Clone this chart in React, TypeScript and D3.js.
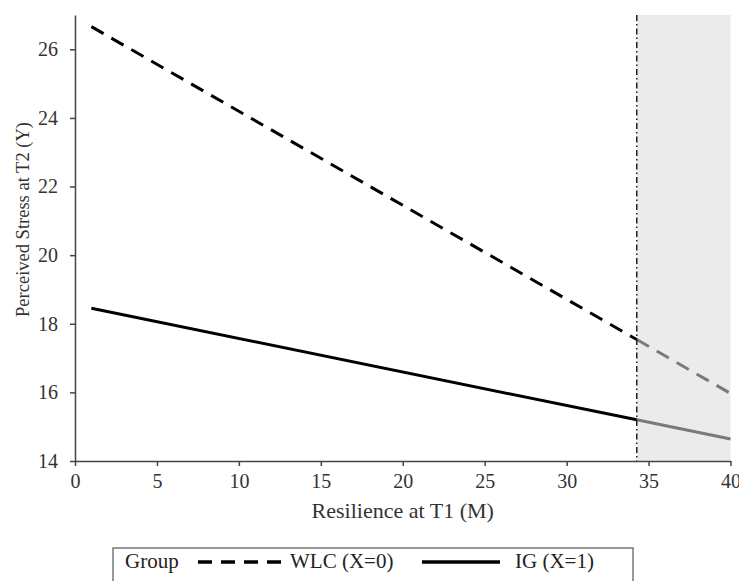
import React, { useEffect, useRef } from 'react';
import * as d3 from 'd3';

// values at the line start, the boundary and the end
const resilience = [1, 34.28, 40];
const wlcStress = [26.66, 17.54, 15.97];
const igStress = [18.45, 15.2, 14.64];
const boundary = 34.28;
const xTicks = [0, 5, 10, 15, 20, 25, 30, 35, 40];
const yTicks = [14, 16, 18, 20, 22, 24, 26];

const FONT = '"Liberation Serif", "Times New Roman", serif';

function App() {
  const ref = useRef<SVGSVGElement | null>(null);

  useEffect(() => {
    if (!ref.current) return;
    const svg = d3.select(ref.current);
    svg.selectAll('*').remove();

    const x = d3.scaleLinear().domain([0, 40]).range([75, 730.5]);
    const y = d3.scaleLinear().domain([14, 27]).range([461, 15]);

    // shaded region beyond the boundary
    svg.append('rect')
      .attr('x', x(boundary))
      .attr('y', y(27))
      .attr('width', x(40) - x(boundary))
      .attr('height', y(14) - y(27))
      .attr('fill', '#ebebeb');

    // black part up to the boundary, grey part after it
    const drawSeries = (vals: number[], dash: string | null) => {
      const seg = (from: number, to: number, color: string) => {
        const xs = resilience.slice(from, to);
        svg.append('path')
          .datum(vals.slice(from, to))
          .attr('fill', 'none')
          .attr('stroke', color)
          .attr('stroke-width', 3)
          .attr('stroke-dasharray', dash)
          .attr('d', d3.line<number>().x((_, i) => x(xs[i])).y((d) => y(d)));
      };
      seg(0, 2, '#000');
      seg(1, 3, '#7a7a7a');
    };
    drawSeries(wlcStress, '14,9');
    drawSeries(igStress, null);

    // boundary line
    svg.append('line')
      .attr('x1', x(boundary)).attr('x2', x(boundary))
      .attr('y1', y(27)).attr('y2', y(14))
      .attr('stroke', '#222')
      .attr('stroke-width', 1.5)
      .attr('stroke-dasharray', '6,3,1.5,3');

    const xAxis = svg.append('g')
      .attr('transform', `translate(0,${y(14)})`)
      .call(d3.axisBottom(x).tickValues(xTicks).tickSize(5).tickSizeOuter(0).tickPadding(8));
    const yAxis = svg.append('g')
      .attr('transform', `translate(${x(0)},0)`)
      .call(d3.axisLeft(y).tickValues(yTicks).tickSize(5).tickSizeOuter(0).tickPadding(12));

    [xAxis, yAxis].forEach((g) => {
      g.select('.domain').attr('stroke', '#444').attr('stroke-width', 1.5);
      g.selectAll('.tick line').attr('stroke', '#444').attr('stroke-width', 1.5);
      g.selectAll('.tick text')
        .attr('font-family', FONT)
        .attr('font-size', 20)
        .attr('fill', '#333');
    });

    svg.append('text')
      .attr('x', (x(0) + x(40)) / 2)
      .attr('y', 518)
      .attr('text-anchor', 'middle')
      .attr('font-family', FONT)
      .attr('font-size', 22)
      .attr('fill', '#333')
      .text('Resilience at T1 (M)');

    svg.append('text')
      .attr('transform', `translate(29,219.5) rotate(-90)`)
      .attr('text-anchor', 'middle')
      .attr('font-family', FONT)
      .attr('font-size', 18.5)
      .attr('fill', '#333')
      .text('Perceived Stress at T2 (Y)');

    // legend
    const lg = svg.append('g');
    lg.append('rect')
      .attr('x', 113).attr('y', 548)
      .attr('width', 520).attr('height', 50)
      .attr('fill', 'none')
      .attr('stroke', '#555')
      .attr('stroke-width', 1.2);
    const txt = (tx: number, s: string) => lg.append('text')
      .attr('x', tx).attr('y', 568)
      .attr('font-family', FONT)
      .attr('font-size', 21)
      .attr('fill', '#222')
      .text(s);
    txt(125, 'Group');
    lg.append('line')
      .attr('x1', 198).attr('x2', 281).attr('y1', 562).attr('y2', 562)
      .attr('stroke', '#000').attr('stroke-width', 3.5)
      .attr('stroke-dasharray', '14,9');
    txt(290, 'WLC (X=0)');
    lg.append('line')
      .attr('x1', 422).attr('x2', 500).attr('y1', 562).attr('y2', 562)
      .attr('stroke', '#000').attr('stroke-width', 3.5);
    txt(515, 'IG (X=1)');
  }, []);

  return (
    <svg ref={ref} width={739} height={581} style={{ display: 'block', position: 'absolute', left: 0, top: 0, background: '#fff' }} />
  );
}

export default App;
